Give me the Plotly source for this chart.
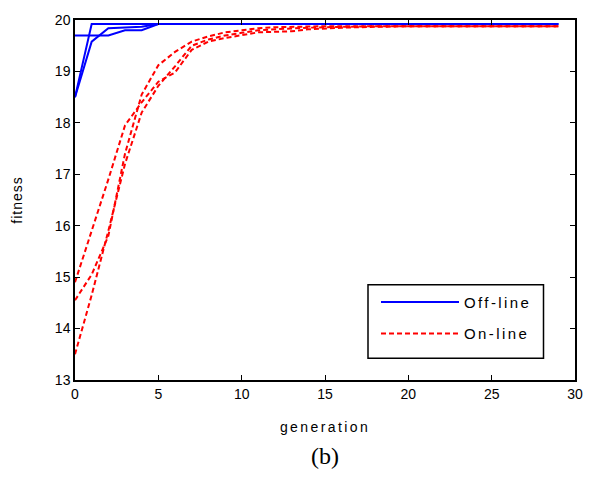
import plotly.graph_objects as go

generations = list(range(30))

# off-line runs (fitness per generation)
offline_a = [18.5, 19.92] + [19.92] * 28
offline_b = [18.5, 19.58, 19.84, 19.86, 19.87, 19.92] + [19.92] * 24
offline_c = [19.7, 19.7, 19.7, 19.8, 19.8, 19.92] + [19.92] * 24

# on-line runs (fitness per generation)
online_a = [14.9, 15.9, 16.9, 17.95, 18.4, 18.8, 18.98, 19.42, 19.58, 19.65,
            19.7, 19.76, 19.77, 19.78, 19.82, 19.84, 19.85, 19.86, 19.87, 19.88,
            19.88, 19.88, 19.88, 19.88, 19.88, 19.88, 19.88, 19.88, 19.88, 19.88]
online_b = [14.55, 15.05, 15.8, 17.4, 18.55, 19.12, 19.38, 19.58, 19.68, 19.76,
            19.8, 19.84, 19.86, 19.87, 19.87, 19.88, 19.88, 19.88, 19.88, 19.88,
            19.88, 19.88, 19.88, 19.88, 19.88, 19.88, 19.88, 19.88, 19.88, 19.88]
online_c = [13.5, 14.65, 15.9, 17.2, 18.2, 18.72, 19.1, 19.5, 19.62, 19.7,
            19.75, 19.8, 19.82, 19.84, 19.85, 19.86, 19.87, 19.87, 19.88, 19.88,
            19.88, 19.88, 19.88, 19.88, 19.88, 19.88, 19.88, 19.88, 19.88, 19.88]

x_ticks = [0, 5, 10, 15, 20, 25, 30]
y_ticks = [13, 14, 15, 16, 17, 18, 19, 20]

fig = go.Figure()

for i, run in enumerate([offline_a, offline_b, offline_c]):
    fig.add_trace(go.Scatter(
        x=generations, y=run, mode="lines", name="Off-line",
        legendgroup="off", showlegend=(i == 0),
        line=dict(color="#0000ff", width=2),
    ))

for i, run in enumerate([online_a, online_b, online_c]):
    fig.add_trace(go.Scatter(
        x=generations, y=run, mode="lines", name="On-line",
        legendgroup="on", showlegend=(i == 0),
        line=dict(color="#ff0000", width=2, dash="5px,3px"),
    ))

axis_font = dict(family="Liberation Sans, Arial", size=14, color="black")

fig.update_layout(
    width=595, height=479,
    margin=dict(l=75, r=12, t=17, b=99),
    plot_bgcolor="white", paper_bgcolor="white",
    showlegend=True,
    legend=dict(
        x=0.602, y=0.262, xanchor="left", yanchor="top",
        borderwidth=0, bgcolor="rgba(0,0,0,0)",
        font=dict(family="Liberation Sans, Arial", size=15, color="black"),
        itemwidth=78, tracegroupgap=9, traceorder="grouped",
    ),
    # frame around the legend entries
    shapes=[dict(
        type="rect", xref="paper", yref="paper",
        x0=0.586, x1=0.937, y0=0.0606, y1=0.2645,
        line=dict(color="black", width=1.5), fillcolor="white", layer="below",
    )],
    xaxis=dict(
        range=[0, 30], tickvals=x_ticks, ticks="inside", ticklen=5,
        tickcolor="black", tickwidth=1, showgrid=False, zeroline=False,
        showline=True, linecolor="black", linewidth=1.5, mirror="ticks",
        tickfont=axis_font,
        title=dict(text="generation", font=axis_font, standoff=22),
    ),
    yaxis=dict(
        range=[13, 20], tickvals=y_ticks, ticks="inside", ticklen=5,
        tickcolor="black", tickwidth=1, showgrid=False, zeroline=False,
        showline=True, linecolor="black", linewidth=1.5, mirror="ticks",
        tickfont=axis_font,
        title=dict(text="fitness", font=axis_font, standoff=29),
    ),
    annotations=[dict(
        text="(b)", xref="paper", yref="paper", x=0.5, y=-0.212,
        xanchor="center", yanchor="middle", showarrow=False,
        font=dict(family="Liberation Serif, Times New Roman", size=24, color="black"),
    )],
)

# widen the character spacing of titles and legend labels
spacing_js = """
var gd = document.getElementById('{plot_id}');
function spread(sel, px) {
  gd.querySelectorAll(sel).forEach(function (t) {
    t.style.letterSpacing = px + 'px';
  });
}
spread('.xtitle', 2.4);
spread('.ytitle', 1);
spread('.legendtext', 2.4);
gd.querySelectorAll('.legend [clip-path]').forEach(function (el) {
  el.removeAttribute('clip-path');
});
"""

fig.write_html("out.html", post_script=spacing_js)
